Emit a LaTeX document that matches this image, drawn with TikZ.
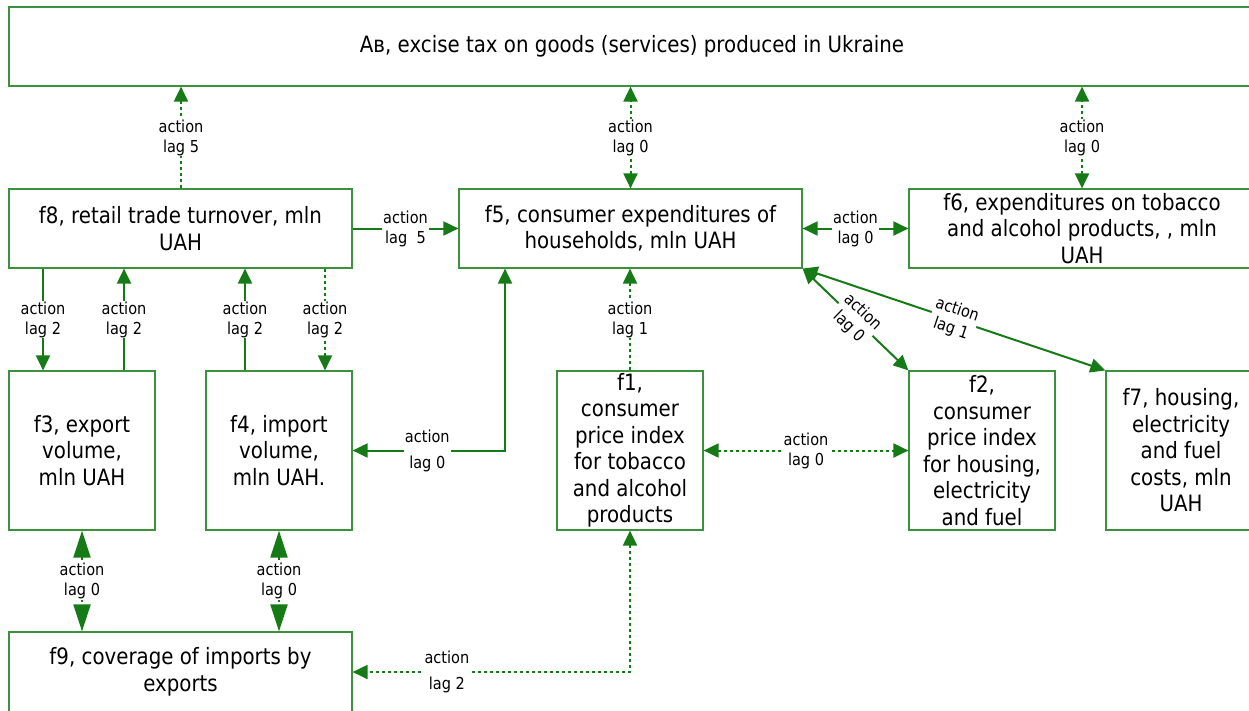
\documentclass[tikz,border=0pt]{standalone}
\usepackage{fontspec}
\setmainfont[FakeStretch=0.88]{DejaVu Sans}
\usetikzlibrary{arrows.meta}
\definecolor{lnk}{RGB}{22,122,22}
\definecolor{bx}{RGB}{60,145,60}
\begin{document}
\begin{tikzpicture}[x=1pt,y=-1pt,
  box/.style={draw=bx, line width=1.2pt, inner sep=0pt, align=center,
    font=\fontsize{22.5}{26.5}\selectfont},
  lbl/.style={fill=white, inner sep=1pt, align=center, text=black,
    font=\fontsize{16.5}{20}\selectfont},
  lblwide/.style={lbl, font=\fontsize{16.5}{26}\selectfont},
  con/.style={draw=lnk, line width=2pt},
  dot/.style={con, dash pattern=on 3pt off 3pt},
  >={Triangle[length=15pt,width=14pt]},
  big/.style={{Triangle[length=27pt,width=17pt]}-{Triangle[length=27pt,width=17pt]}}
]
\useasboundingbox (0,0) rectangle (1249,710);

% boxes
\node[box, minimum width=1246pt, minimum height=79pt] (Ab) at (632,46.5)
  {Aв, excise tax on goods (services) produced in Ukraine};
\node[box, minimum width=343pt, minimum height=79pt] (f8) at (180.5,228.5)
  {f8, retail trade turnover, mln\\UAH};
\node[box, minimum width=343pt, minimum height=79pt] (f5) at (630.5,228.5)
  {f5, consumer expenditures of\\households, mln UAH};
\node[box, minimum width=346pt, minimum height=79pt] (f6) at (1082,228.5)
  {f6, expenditures on tobacco\\and alcohol products, , mln\\UAH};
\node[box, minimum width=146pt, minimum height=159pt] (f3) at (82,450.5)
  {f3, export\\volume,\\mln UAH};
\node[box, minimum width=146pt, minimum height=159pt] (f4) at (279,450.5)
  {f4, import\\volume,\\mln UAH.};
\node[box, minimum width=146pt, minimum height=159pt] (f1) at (630,450.5)
  {f1,\\consumer\\price index\\for tobacco\\and alcohol\\products};
\node[box, minimum width=146pt, minimum height=159pt] (f2) at (982,450.5)
  {f2,\\consumer\\price index\\for housing,\\electricity\\and fuel};
\node[box, minimum width=150pt, minimum height=159pt] (f7) at (1181,450.5)
  {f7, housing,\\electricity\\and fuel\\costs, mln\\UAH};
\node[box, minimum width=343pt, minimum height=80pt] (f9) at (180.5,672)
  {f9, coverage of imports by\\exports};

% helper x positions
\coordinate (x181) at (181,0);
\coordinate (x43) at (43,0);
\coordinate (x124) at (124,0);
\coordinate (x245) at (245,0);
\coordinate (x325) at (325,0);
\coordinate (x505) at (505,0);

% top connectors
\draw[dot,->] (f8.north -| x181) -- node[lbl]{action\\lag 5} (Ab.south -| x181);
\draw[dot,<->] (f5.north) -- node[lbl]{action\\lag 0} (Ab.south -| f5.north);
\draw[dot,<->] (f6.north) -- node[lbl]{action\\lag 0} (Ab.south -| f6.north);

% horizontal row
\draw[con,->] (f8.east) -- node[lbl]{action\\lag\ \ 5} (f5.west);
\draw[con,<->] (f5.east) -- node[lbl]{action\\lag 0} (f6.west);

% f8 <-> f3, f4
\draw[con,->] (f8.south -| x43) -- node[lbl]{action\\lag 2} (f3.north -| x43);
\draw[con,->] (f3.north -| x124) -- node[lbl]{action\\lag 2} (f8.south -| x124);
\draw[con,->] (f4.north -| x245) -- node[lbl]{action\\lag 2} (f8.south -| x245);
\draw[dot,->] (f8.south -| x325) -- node[lbl]{action\\lag 2} (f4.north -| x325);

% f1 -> f5
\draw[dot,->] (f1.north) -- node[lbl]{action\\lag 1} (f1.north |- f5.south);

% diagonals
\draw[con,<->] (f5.south east) -- node[lbl, sloped]{action\\lag 0} (f2.north west);
\draw[con,<->] (f5.south east) -- node[lbl, sloped]{action\\lag 1} (f7.north west);

% f5 <-> f4
\draw[con,<->] (f5.south -| x505) |- node[lblwide, pos=0.755]{action\\lag 0} (f4.east);

% f1 <-> f2
\draw[dot,<->] (f1.east) -- node[lbl]{action\\lag 0} (f2.west);

% f3, f4 <-> f9
\draw[dot,big] (f3.south) -- node[lbl]{action\\lag 0} (f3.south |- f9.north);
\draw[dot,big] (f4.south) -- node[lbl]{action\\lag 0} (f4.south |- f9.north);

% f1 <-> f9
\draw[dot,<->] (f1.south) |- node[lblwide, pos=0.83]{action\\lag 2} (f9.east);
\end{tikzpicture}
\end{document}
